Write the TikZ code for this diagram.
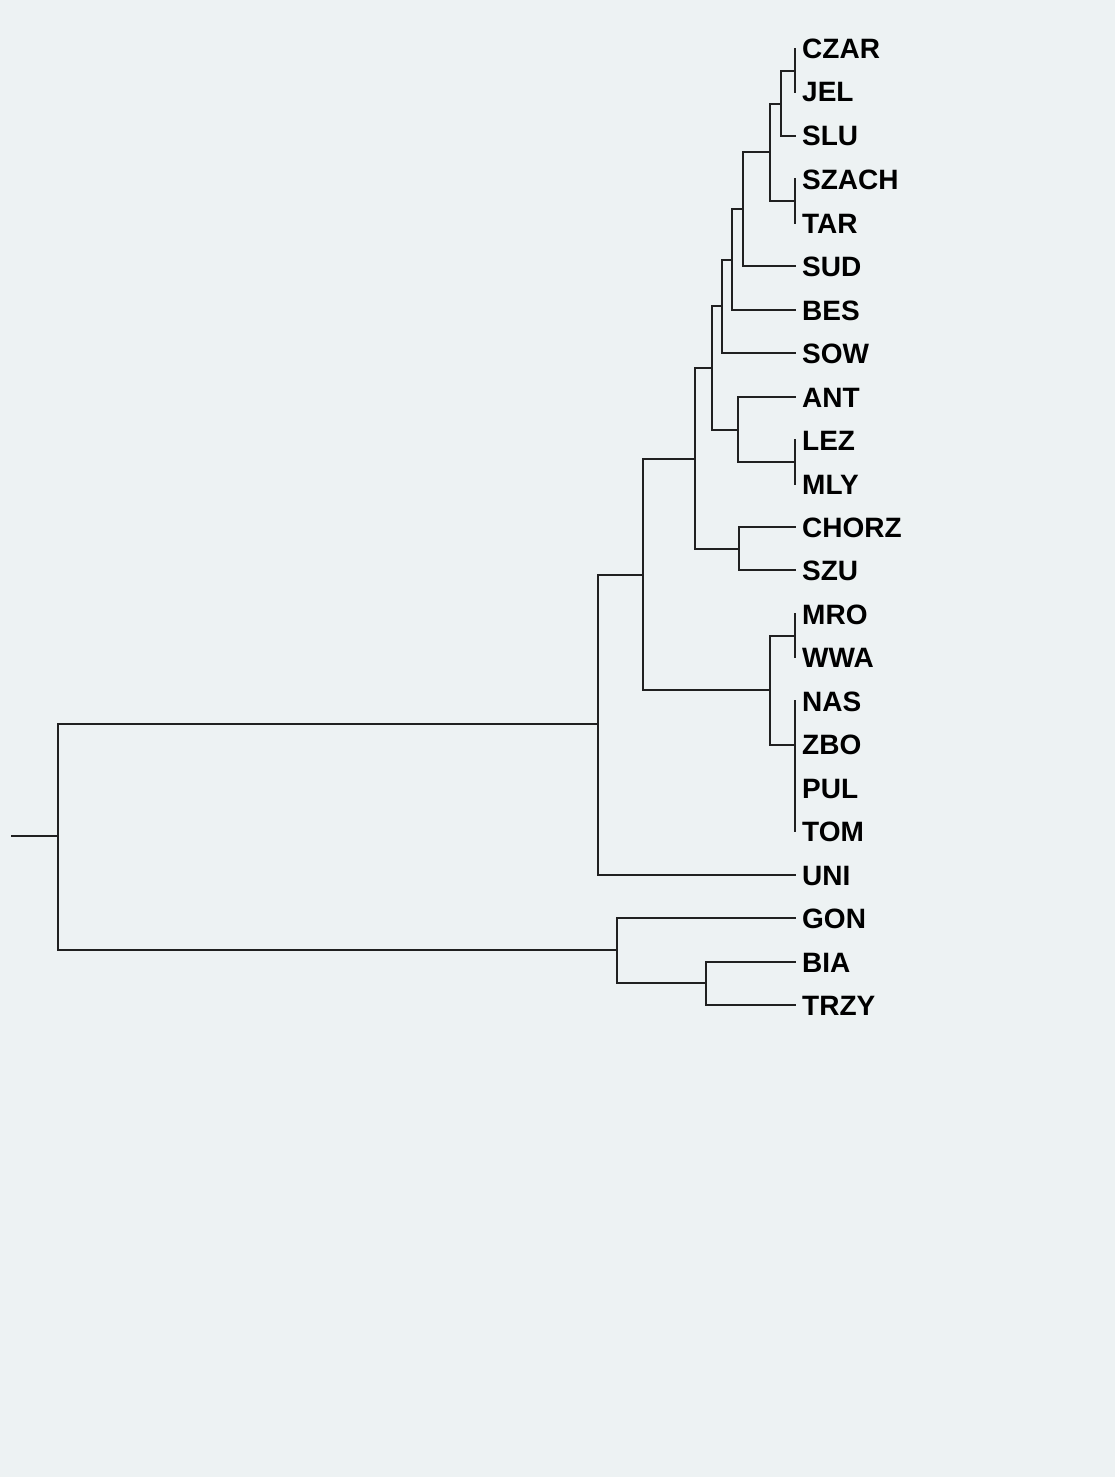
\documentclass[tikz,border=0pt]{standalone}
\usepackage{fontspec}
\setsansfont{Liberation Sans}
\definecolor{paper}{HTML}{EDF2F3}
\definecolor{ink}{HTML}{202020}
\begin{document}
\begin{tikzpicture}[x=1pt,y=-1pt,
  branch/.style={draw=ink,line width=2.2pt,line cap=rect},
  leaf/.style={anchor=west,inner xsep=7pt,inner ysep=0pt,text height=20pt,text depth=0pt,
    font=\sffamily\bfseries\fontsize{28}{28}\selectfont,text=black}]
\fill[paper] (0,0) rectangle (1115,1477);
\useasboundingbox (0,0) rectangle (1115,1477);
% leaves
\foreach \n/\yy in {CZAR/49,JEL/92,SLU/136,SZACH/179,TAR/223,SUD/266,BES/310,SOW/353,ANT/397,LEZ/440,MLY/484,CHORZ/527,SZU/570,MRO/614,WWA/657,NAS/701,ZBO/744,PUL/788,TOM/831,UNI/875,GON/918,BIA/962,TRZY/1005}
  \node[leaf] (\n) at (795,\yy) {\n};
% internal junctions
\coordinate (n1) at (795,71);
\coordinate (n2) at (781,104);
\coordinate (n3) at (795,201);
\coordinate (n4) at (770,152);
\coordinate (n5) at (743,209);
\coordinate (n6) at (732,260);
\coordinate (n7) at (722,306);
\coordinate (n8) at (795,462);
\coordinate (n9) at (738,430);
\coordinate (n10) at (712,368);
\coordinate (n11) at (739,549);
\coordinate (n12) at (695,459);
\coordinate (n13) at (795,636);
\coordinate (n14) at (795,745);
\coordinate (n15) at (770,690);
\coordinate (n16) at (643,575);
\coordinate (n17) at (598,724);
\coordinate (n18) at (706,983);
\coordinate (n19) at (617,950);
\coordinate (root) at (58,836);
\coordinate (stub) at (12,836);
% branches
\draw[branch] (CZAR.west) -- (JEL.west);
\draw[branch] (n1) -| (n2) |- (SLU.west);
\draw[branch] (SZACH.west) -- (TAR.west);
\draw[branch] (n2) -| (n4) |- (n3);
\draw[branch] (n4) -| (n5) |- (SUD.west);
\draw[branch] (n5) -| (n6) |- (BES.west);
\draw[branch] (n6) -| (n7) |- (SOW.west);
\draw[branch] (LEZ.west) -- (MLY.west);
\draw[branch] (ANT.west) -| (n9) |- (n8);
\draw[branch] (n7) -| (n10) |- (n9);
\draw[branch] (CHORZ.west) -| (n11) |- (SZU.west);
\draw[branch] (n10) -| (n12) |- (n11);
\draw[branch] (MRO.west) -- (WWA.west);
\draw[branch] (NAS.west) -- (TOM.west);
\draw[branch] (n13) -| (n15) |- (n14);
\draw[branch] (n12) -| (n16) |- (n15);
\draw[branch] (n16) -| (n17) |- (UNI.west);
\draw[branch] (BIA.west) -| (n18) |- (TRZY.west);
\draw[branch] (GON.west) -| (n19) |- (n18);
\draw[branch] (n17) -| (root) |- (n19);
\draw[branch] (stub) -- (root);
\end{tikzpicture}
\end{document}
